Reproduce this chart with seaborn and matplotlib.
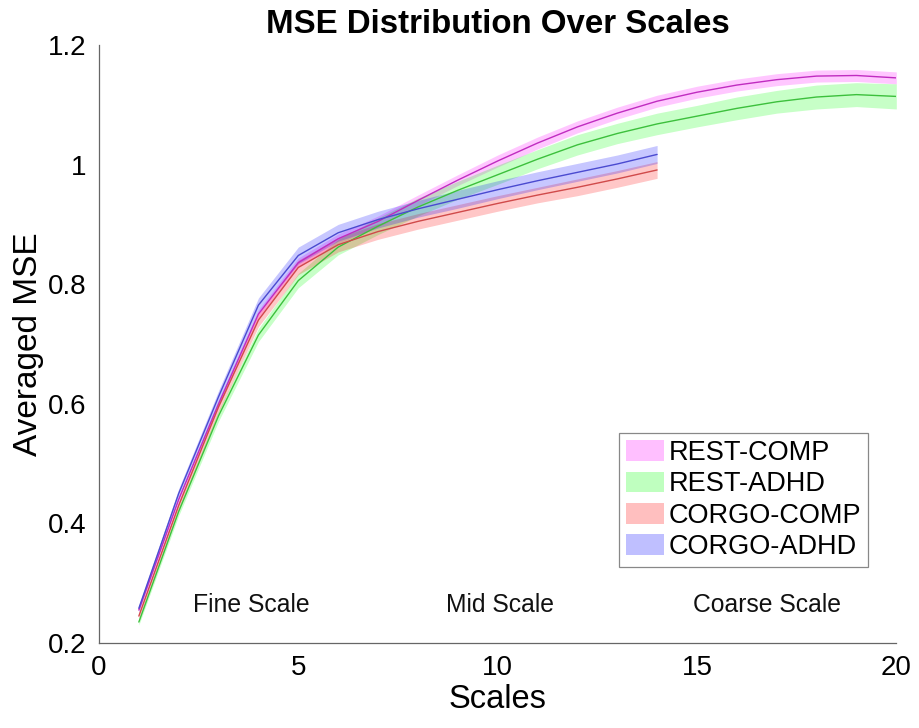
import numpy as np
import pandas as pd
import seaborn as sns
import matplotlib
matplotlib.use("Agg")
import matplotlib.pyplot as plt
from matplotlib.patches import Patch

# Scales for the two conditions
scales_rest = list(range(1, 21))
scales_corgo = list(range(1, 15))

# Averaged MSE per scale (group means)
rest_comp = [0.255, 0.440, 0.600, 0.750, 0.836, 0.876, 0.905, 0.940, 0.974, 1.006,
             1.036, 1.063, 1.086, 1.106, 1.121, 1.133, 1.142, 1.148, 1.149, 1.145]
rest_adhd = [0.235, 0.420, 0.580, 0.715, 0.806, 0.862, 0.897, 0.929, 0.957, 0.983,
             1.009, 1.033, 1.052, 1.068, 1.081, 1.094, 1.105, 1.113, 1.117, 1.114]
corgo_comp = [0.245, 0.430, 0.595, 0.740, 0.828, 0.866, 0.888, 0.905, 0.920, 0.935,
              0.949, 0.962, 0.976, 0.991]
corgo_adhd = [0.258, 0.450, 0.612, 0.765, 0.848, 0.886, 0.908, 0.926, 0.942, 0.958,
              0.973, 0.987, 1.001, 1.017]

# Standard error half-widths of the shaded bands
rest_comp_se = [0.004, 0.005, 0.006, 0.007, 0.008, 0.008, 0.009, 0.009, 0.009, 0.010,
                0.010, 0.010, 0.010, 0.010, 0.010, 0.010, 0.010, 0.010, 0.010, 0.010]
rest_adhd_se = [0.005, 0.007, 0.009, 0.011, 0.012, 0.013, 0.014, 0.015, 0.015, 0.016,
                0.016, 0.017, 0.017, 0.018, 0.018, 0.019, 0.019, 0.020, 0.020, 0.021]
corgo_comp_se = [0.005, 0.007, 0.009, 0.011, 0.012, 0.012, 0.013, 0.013, 0.013, 0.013,
                 0.013, 0.014, 0.014, 0.014]
corgo_adhd_se = [0.005, 0.008, 0.010, 0.012, 0.014, 0.014, 0.014, 0.014, 0.015, 0.015,
                 0.015, 0.015, 0.015, 0.015]

groups = ["REST-COMP", "REST-ADHD", "CORGO-COMP", "CORGO-ADHD"]
fill_colors = ["#ff00ff", "#00ff00", "#ff0000", "#0000ff"]
line_colors = ["#c02cc0", "#3cc03c", "#d04a4a", "#4a4ad0"]

series = [
    (scales_rest, rest_comp, rest_comp_se),
    (scales_rest, rest_adhd, rest_adhd_se),
    (scales_corgo, corgo_comp, corgo_comp_se),
    (scales_corgo, corgo_adhd, corgo_adhd_se),
]

frames = []
for g, (xs, ys, se) in zip(groups, series):
    frames.append(pd.DataFrame({"Scale": xs, "MSE": ys, "SE": se, "Group": g}))
df = pd.concat(frames, ignore_index=True)

sns.set_style("white")
plt.rcParams["font.family"] = ["Liberation Sans", "DejaVu Sans"]
plt.rcParams["text.color"] = "black"
plt.rcParams["axes.labelcolor"] = "black"

fig = plt.figure(figsize=(9.19, 7.28), dpi=100)
ax = fig.add_axes([0.1077, 0.1168, 0.8676, 0.8214])

for g, fc in zip(groups, fill_colors):
    d = df[df["Group"] == g]
    ax.fill_between(d["Scale"], d["MSE"] - d["SE"], d["MSE"] + d["SE"],
                    color=fc, alpha=0.22, linewidth=0)

sns.lineplot(data=df, x="Scale", y="MSE", hue="Group", hue_order=groups,
             palette=line_colors, linewidth=1.0, legend=False, ax=ax)

ax.set_xlim(0, 20)
ax.set_ylim(0.2, 1.2)
ax.set_xticks([0, 5, 10, 15, 20])
ax.set_xticklabels(["0", "5", "10", "15", "20"])
ax.set_yticks([0.2, 0.4, 0.6, 0.8, 1.0, 1.2])
ax.set_yticklabels(["0.2", "0.4", "0.6", "0.8", "1", "1.2"])
ax.tick_params(direction="in", length=7, width=0.8, color="#555555",
               labelsize=20, pad=9, labelcolor="black")
for side in ["top", "right"]:
    ax.spines[side].set_visible(False)
for side in ["left", "bottom"]:
    ax.spines[side].set_color("#666666")
    ax.spines[side].set_linewidth(0.9)

ax.set_xlabel("Scales", fontsize=23.5, labelpad=2, color="black")
ax.set_ylabel("Averaged MSE", fontsize=24, labelpad=3, color="black")
ax.set_title("MSE Distribution Over Scales", fontsize=23.8, fontweight="bold",
             pad=8.5, color="black")

for label, xpos in [("Fine Scale", 2.35), ("Mid Scale", 8.7), ("Coarse Scale", 14.9)]:
    ax.text(xpos, 0.264, label, fontsize=17.8, ha="left", va="center", color="#111111")

handles = [Patch(facecolor=fc, alpha=0.25, edgecolor="none") for fc in fill_colors]
leg = ax.legend(handles, groups, loc="lower right", bbox_to_anchor=(0.965, 0.127),
                fontsize=19.5, frameon=True, fancybox=False, framealpha=1,
                handlelength=1.4, handleheight=0.8, handletextpad=0.2,
                labelspacing=0.2, borderpad=0.25, borderaxespad=0)
leg.get_frame().set_edgecolor("#888888")
leg.get_frame().set_linewidth(0.9)
for t in leg.get_texts():
    t.set_color("black")

fig.savefig("out.png", dpi=100)
